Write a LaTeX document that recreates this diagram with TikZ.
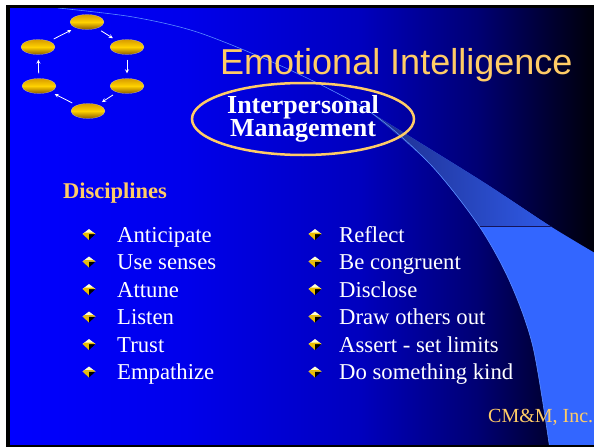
\documentclass[tikz,border=0pt]{standalone}
\usepackage{fontspec}
\setmainfont{Liberation Serif}
\newfontfamily\titlefont{Liberation Sans}
\usetikzlibrary{shapes.geometric}
\definecolor{slidegold}{RGB}{255,204,102}
\definecolor{wedgeblue}{RGB}{51,102,255}
\definecolor{wedgedark}{RGB}{30,45,140}
\definecolor{wedgeline}{RGB}{20,20,90}
\definecolor{arcblue}{RGB}{90,140,255}
\definecolor{ovaltop}{RGB}{215,155,0}
\definecolor{ovalmid}{RGB}{255,210,0}
\definecolor{ovalbottom}{RGB}{140,90,0}
\definecolor{gemlight}{RGB}{255,255,210}
\definecolor{gemgold}{RGB}{235,190,0}
\definecolor{bga}{RGB}{0,0,255}
\definecolor{bgb}{RGB}{0,0,235}
\definecolor{bgc}{RGB}{0,0,190}
\definecolor{bgd}{RGB}{0,0,115}
\definecolor{bge}{RGB}{0,0,10}
\pgfdeclarehorizontalshading{slidebg}{100bp}{color(0bp)=(bga); color(25bp)=(bga); color(40bp)=(bgb); color(55bp)=(bgc); color(65bp)=(bgd); color(75bp)=(bge); color(100bp)=(bge)}
\newcommand{\wedgeoutline}{plot[smooth] coordinates {(370,112) (430,164) (479,226) (510,282) (533,347) (550,450)} -- (600,450) -- (600,256) -- plot[smooth] coordinates {(600,256) (550,226) (480,180) (370,112)} -- cycle}

\begin{document}
\begin{tikzpicture}[x=1pt, y=-1pt]
        \tikzset{cycleoval/.style={ellipse, draw=white!60!gray, very thin, minimum width=34pt, minimum height=15pt, inner sep=0pt, top color=ovaltop, bottom color=ovalbottom, middle color=ovalmid},
                 cyclearrow/.style={-stealth, line width=0.8pt, white, shorten <=5pt, shorten >=5pt},
                 item/.style={anchor=base west, inner sep=0pt, text=white, font=\fontsize{22.7pt}{27pt}\selectfont},
                 gold/.style={anchor=base west, inner sep=0pt, text=slidegold},
                 pics/gem/.style={code={
                     \fill[gemlight] (-6.5,0) -- (0,-5) -- (6.5,0) -- cycle;
                     \fill[gemgold] (-6.5,0) -- (0,0) -- (0,6) -- cycle;
                     \fill[black] (0,0) -- (6.5,0) -- (0,6) -- cycle;
                     \fill[gemgold] (-6.5,0) -- (6.5,0) -- (4,-1.5) -- (-4,-1.5) -- cycle;}}}
        \useasboundingbox (0,0) rectangle (594,447);
        \fill[white] (0,0) rectangle (594,447);
        \fill[black] (6,5) rectangle (594,447);
        \shade[shading=slidebg] (10,8) rectangle (594,444);
        % wedge on the right
        \begin{scope}
            \clip (10,8) rectangle (594,444);
            \fill[wedgeblue] \wedgeoutline;
            \begin{scope}
                \clip (300,100) rectangle (600,226);
                \shade[left color=wedgedark, right color=wedgeblue] \wedgeoutline;
            \end{scope}
            \begin{scope}
                \clip \wedgeoutline;
                \draw[wedgeline, line width=1pt] (400,226) -- (600,226);
            \end{scope}
            \draw[arcblue, line width=0.6pt] plot[smooth] coordinates {(58,8) (133,17) (200,33) (290,70) (370,112) (430,164) (479,226) (510,282) (533,347) (550,450)};
        \end{scope}
        % cycle of ovals
        \node[cycleoval] (ctop) at (87,22) {};
        \node[cycleoval] (cupright) at (127,47) {};
        \node[cycleoval] (clowright) at (127,86) {};
        \node[cycleoval] (cbottom) at (88,111) {};
        \node[cycleoval] (clowleft) at (39,86) {};
        \node[cycleoval] (cupleft) at (38,47) {};
        \draw[cyclearrow] (cupleft) -- (ctop);
        \draw[cyclearrow] (ctop) -- (cupright);
        \draw[cyclearrow] (cupright) -- (clowright);
        \draw[cyclearrow] (clowright) -- (cbottom);
        \draw[cyclearrow] (cbottom) -- (clowleft);
        \draw[cyclearrow] (clowleft) -- (cupleft);
        % titles
        \node[gold, font=\titlefont\fontsize{36pt}{40pt}\selectfont] (title) at (220,74) {Emotional Intelligence};
        \node[ellipse, draw=slidegold, line width=2.5pt, minimum width=222pt, minimum height=72pt, inner sep=0pt, align=center, text=white, font=\fontsize{26pt}{22pt}\selectfont\bfseries] (mgmt) at (303,119) {Interpersonal\\Management};
        \node[gold, font=\fontsize{22.5pt}{27pt}\selectfont\bfseries] (disc) at (63,198) {Disciplines};
        % left column
        \pic at (89,234) {gem};
        \pic at (89,261.5) {gem};
        \pic at (89,289) {gem};
        \pic at (89,316.5) {gem};
        \pic at (89,344) {gem};
        \pic at (89,371.5) {gem};
        \node[item] (anticipate) at (117,242) {Anticipate};
        \node[item] (senses) at (117,269.5) {Use senses};
        \node[item] (attune) at (117,297) {Attune};
        \node[item] (listen) at (117,324.5) {Listen};
        \node[item] (trust) at (117,352) {Trust};
        \node[item] (empathize) at (117,379.5) {Empathize};
        % right column
        \pic at (315,234) {gem};
        \pic at (315,261.5) {gem};
        \pic at (315,289) {gem};
        \pic at (315,316.5) {gem};
        \pic at (315,344) {gem};
        \pic at (315,371.5) {gem};
        \node[item] (reflect) at (339,242) {Reflect};
        \node[item] (congruent) at (339,269.5) {Be congruent};
        \node[item] (disclose) at (339,297) {Disclose};
        \node[item] (drawout) at (339,324.5) {Draw others out};
        \node[item] (assert) at (339,352) {Assert - set limits};
        \node[item] (kind) at (339,379.5) {Do something kind};
        \node[gold, font=\fontsize{20pt}{24pt}\selectfont] (firm) at (488,422) {CM\&M, Inc.};
    \end{tikzpicture}
\end{document}
